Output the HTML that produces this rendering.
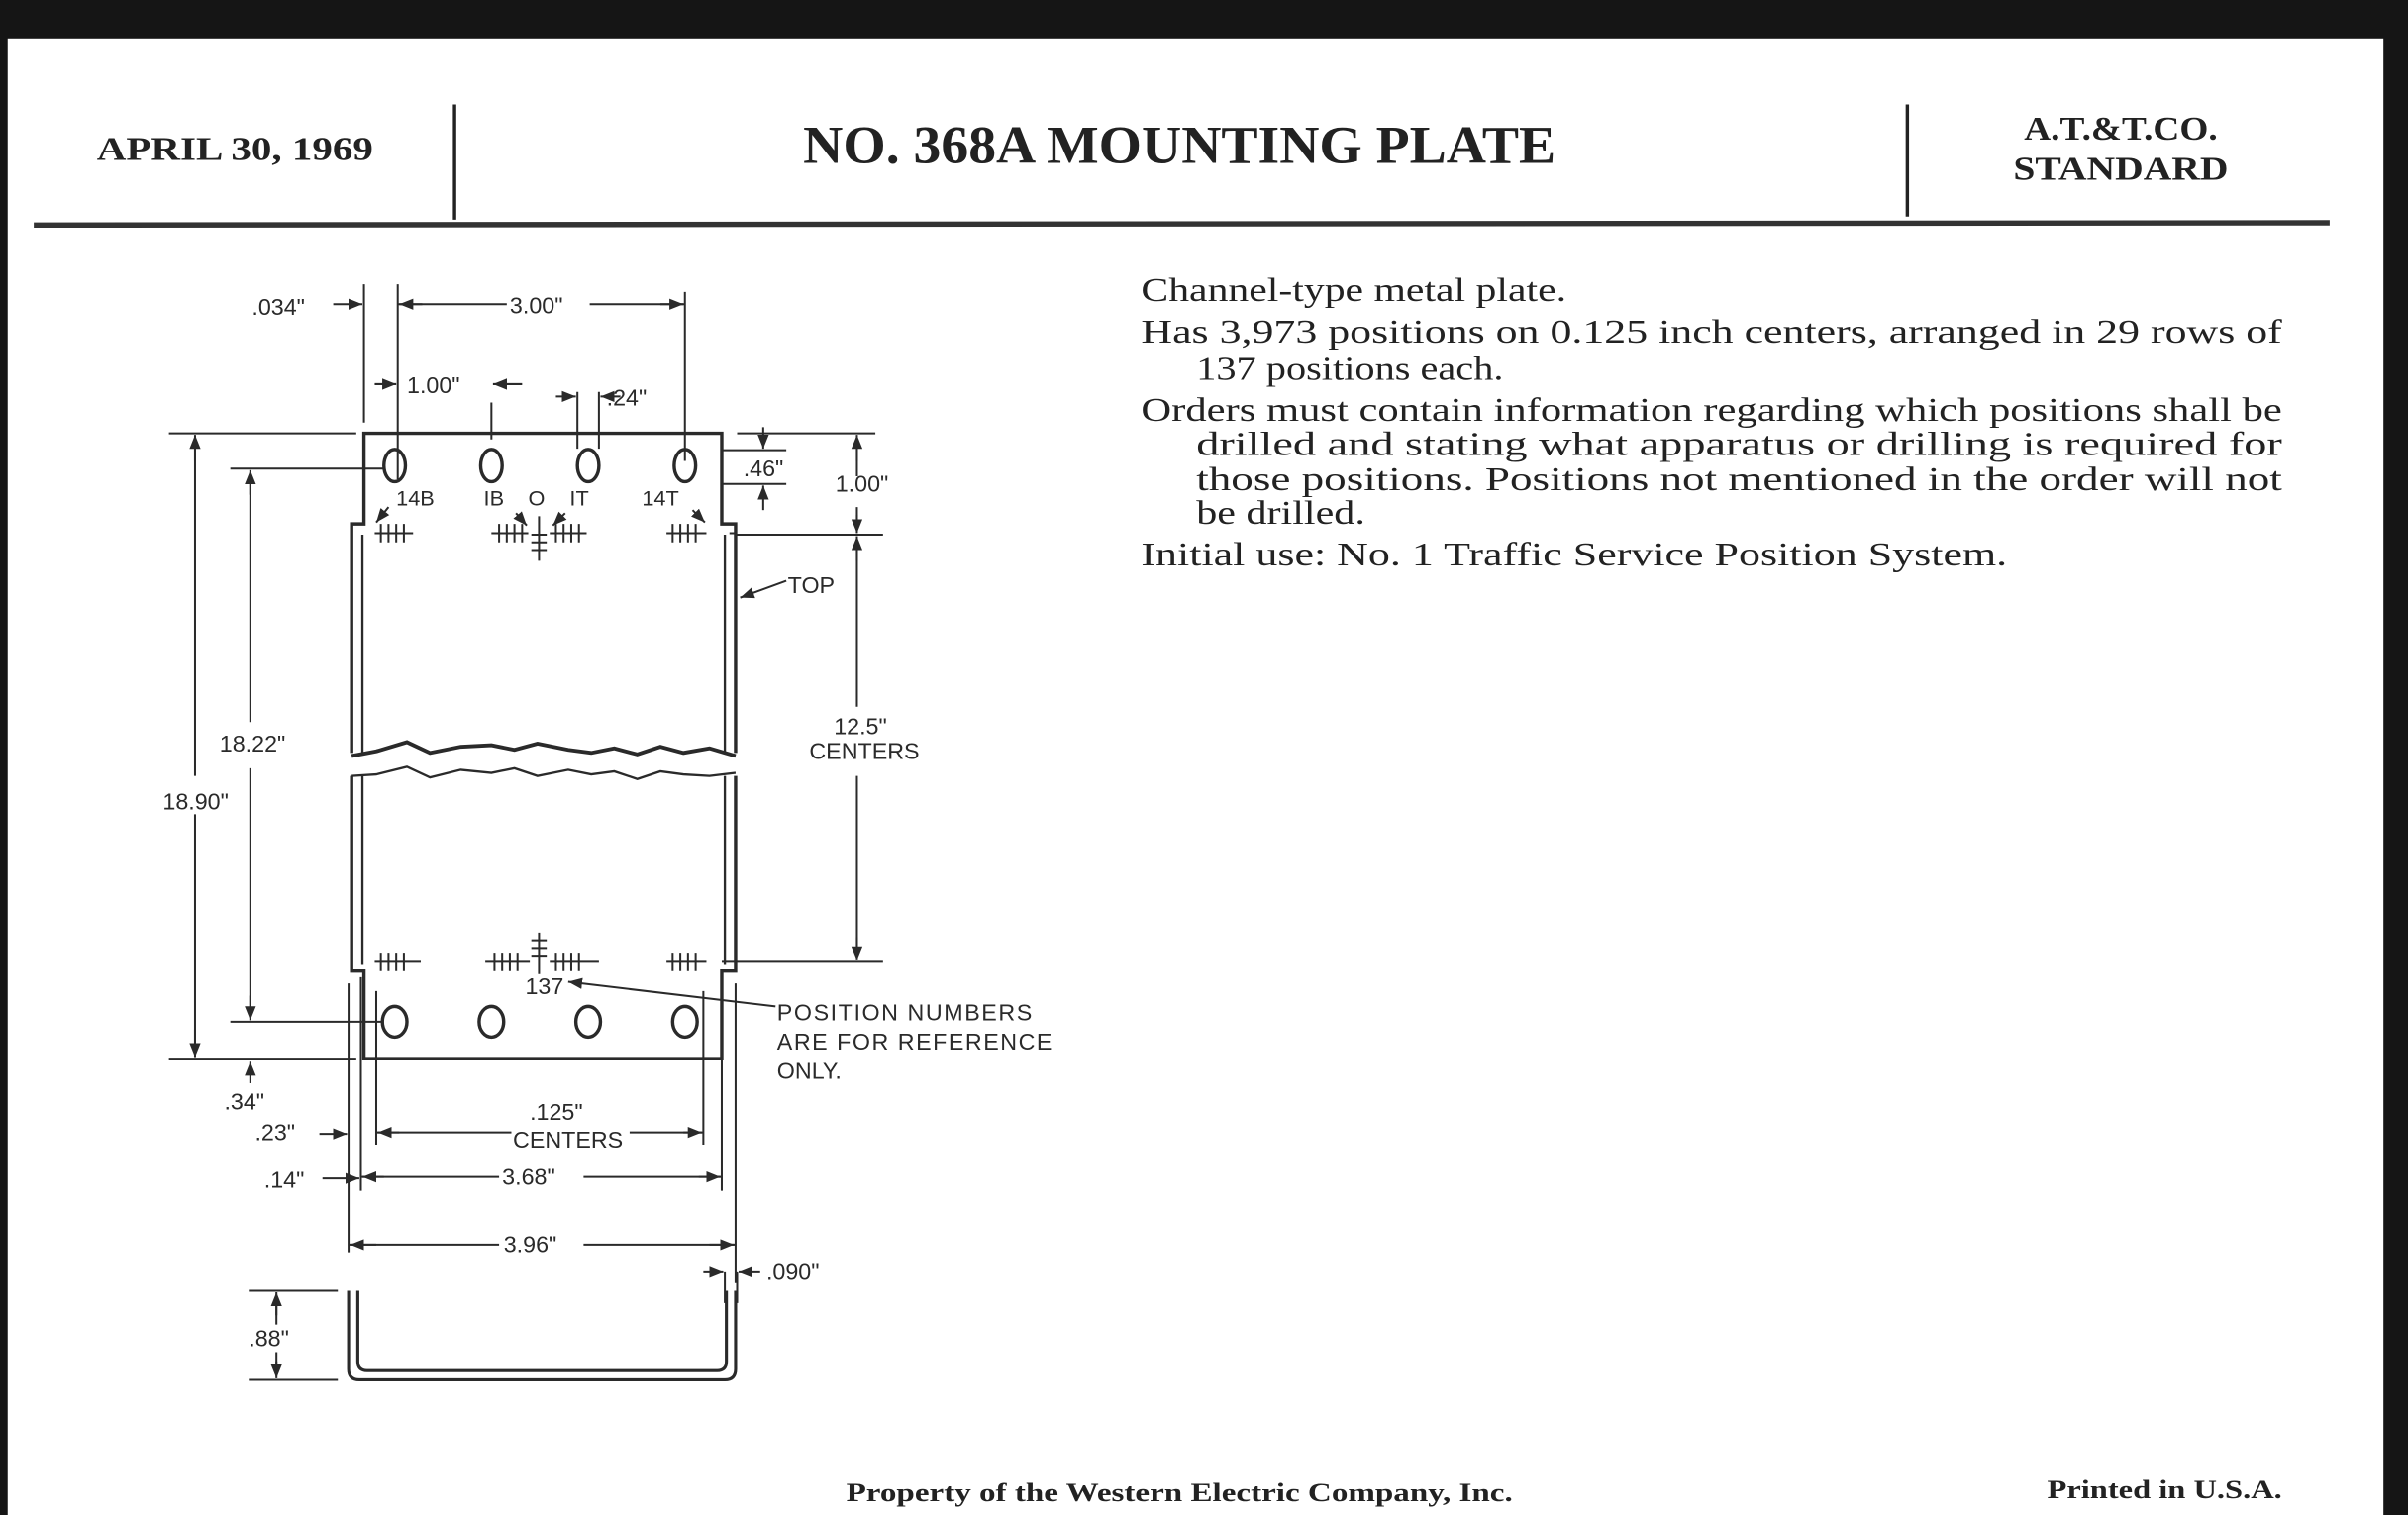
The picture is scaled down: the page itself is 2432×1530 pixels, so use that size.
<!DOCTYPE html>
<html><head><meta charset="utf-8"><style>
html,body{margin:0;padding:0;background:#1a1a1a;}
svg{display:block}
.s{font-family:"Liberation Serif",serif;fill:#222}
.d{font-family:"Liberation Sans",sans-serif;fill:#2a2a2a;font-size:15px}
</style></head><body>
<svg width="2432" height="1530" viewBox="0 0 1568 986" preserveAspectRatio="none" xmlns="http://www.w3.org/2000/svg">
<defs>
<marker id="a" viewBox="0 0 10 10" refX="10" refY="5" markerWidth="7" markerHeight="7" orient="auto-start-reverse"><path d="M0,1 L10,5 L0,9 z" fill="#2a2a2a"/></marker>
</defs>
<rect x="0" y="0" width="1568" height="986" fill="#151515"/>
<rect x="5" y="25" width="1547" height="961" fill="#fff"/>
<!-- header -->
<text class="s" x="63" y="104" font-size="22" font-weight="bold" textLength="180" lengthAdjust="spacingAndGlyphs">APRIL 30, 1969</text>
<line x1="296" y1="68" x2="296" y2="143" stroke="#222" stroke-width="2.2"/>
<line x1="1242" y1="68" x2="1242" y2="141" stroke="#222" stroke-width="2.2"/>
<text class="s" x="523" y="106" font-size="35" font-weight="bold" textLength="490" lengthAdjust="spacingAndGlyphs">NO. 368A MOUNTING PLATE</text>
<text class="s" x="1318" y="91" font-size="22" font-weight="bold" textLength="126" lengthAdjust="spacingAndGlyphs">A.T.&amp;T.CO.</text>
<text class="s" x="1311" y="117" font-size="22" font-weight="bold" textLength="140" lengthAdjust="spacingAndGlyphs">STANDARD</text>
<line x1="22" y1="146.5" x2="1517" y2="145" stroke="#333" stroke-width="3.5"/>
<!-- body text -->
<g class="s" font-size="21.5">
<text x="743" y="196" textLength="277" lengthAdjust="spacingAndGlyphs">Channel-type metal plate.</text>
<text x="743" y="223" textLength="743" lengthAdjust="spacingAndGlyphs">Has 3,973 positions on 0.125 inch centers, arranged in 29 rows of</text>
<text x="779" y="247" textLength="200" lengthAdjust="spacingAndGlyphs">137 positions each.</text>
<text x="743" y="274" textLength="743" lengthAdjust="spacingAndGlyphs">Orders must contain information regarding which positions shall be</text>
<text x="779" y="296" textLength="707" lengthAdjust="spacingAndGlyphs">drilled and stating what apparatus or drilling is required for</text>
<text x="779" y="319" textLength="707" lengthAdjust="spacingAndGlyphs">those positions.  Positions not mentioned in the order will not</text>
<text x="779" y="341" textLength="110" lengthAdjust="spacingAndGlyphs">be drilled.</text>
<text x="743" y="368" textLength="564" lengthAdjust="spacingAndGlyphs">Initial use: No. 1 Traffic Service Position System.</text>
</g>
<text class="s" x="551" y="977" font-size="17" font-weight="bold" textLength="434" lengthAdjust="spacingAndGlyphs">Property of the Western Electric Company, Inc.</text>
<text class="s" x="1333" y="975" font-size="17" font-weight="bold" textLength="153" lengthAdjust="spacingAndGlyphs">Printed in U.S.A.</text>

<!-- drawing -->
<g stroke="#2a2a2a" fill="none" stroke-width="2.2">
<path d="M229,490 L229,341 L237,341 L237,282 L470,282 L470,341 L479,341 L479,490"/>
<path d="M236,490 L236,348 M472,348 L472,490" stroke-width="1.5"/>
<path d="M229,492 L245,489 L265,483 L280,490 L300,486 L320,485 L335,488 L350,484 L370,488 L385,490 L400,487 L415,491 L430,486 L445,490 L462,487 L479,492" stroke-width="2.5"/>
<path d="M229,505 L245,504 L265,499 L280,506 L300,501 L320,503 L335,500 L350,505 L370,501 L385,504 L400,502 L415,507 L430,502 L445,504 L462,505 L479,503" stroke-width="1.5"/>
<path d="M229,505 L229,632 L237,632 L237,689 L470,689 L470,632 L479,632 L479,505"/>
<path d="M236,505 L236,628 M472,505 L472,628" stroke-width="1.5"/>
<ellipse cx="257" cy="303" rx="7" ry="10.5"/><ellipse cx="320" cy="303" rx="7" ry="10.5"/><ellipse cx="383" cy="303" rx="7" ry="10.5"/><ellipse cx="446" cy="303" rx="7" ry="10.5"/>
<ellipse cx="257" cy="665" rx="8" ry="10"/><ellipse cx="320" cy="665" rx="8" ry="10"/><ellipse cx="383" cy="665" rx="8" ry="10"/><ellipse cx="446" cy="665" rx="8" ry="10"/>
</g>
<g stroke="#2a2a2a" fill="none" stroke-width="1.3">
<path d="M244,347 H269 M248,341 V353 M253,341 V353 M258,341 V353 M263,341 V353"/>
<path d="M320,347 H344 M325,341 V353 M330,341 V353 M335,341 V353 M340,341 V353"/>
<path d="M358,347 H382 M362,341 V353 M367,341 V353 M372,341 V353 M377,341 V353"/>
<path d="M351,336 V365 M346,348 H356 M346,353 H356 M346,358 H356"/>
<path d="M434,347 H460 M438,341 V353 M443,341 V353 M448,341 V353 M453,341 V353 M475,347 H480"/>
<path d="M244,626 H274 M248,620 V632 M253,620 V632 M258,620 V632 M263,620 V632"/>
<path d="M316,626 H345 M322,620 V632 M327,620 V632 M332,620 V632 M337,620 V632"/>
<path d="M358,626 H390 M362,620 V632 M367,620 V632 M372,620 V632 M377,620 V632"/>
<path d="M351,607 V634 M346,612 H356 M346,617 H356 M346,622 H356"/>
<path d="M434,626 H460 M438,620 V632 M443,620 V632 M448,620 V632 M453,620 V632"/>
<path d="M110,282 H232 M110,689 H232 M150,305 H250 M150,665 H250"/>
<path d="M237,185 V275 M259,185 V312 M446,190 V300 M320,262 V286 M376,255 V292 M390,255 V292"/>
<path d="M470,293 H512 M470,315 H512 M480,282 H570 M480,348 H575 M470,626 H575"/>
<path d="M227,640 V815 M235,636 V775 M245,645 V745 M458,645 V745 M470,640 V775 M479,640 V835"/>
<path d="M162,840 H220 M162,898 H220"/>
<path d="M127,289 V505 M127,530 V682" />
<path d="M163,312 V470 M163,500 V658"/>
<path d="M558,289 V310 M558,330 V342" />
<path d="M558,355 V460 M558,505 V620"/>
<path d="M259,198 H330 M384,198 H446"/>
<path d="M245,737 H333 M410,737 H458"/>
<path d="M235,766 H325 M380,766 H470"/>
<path d="M227,810 H325 M380,810 H479"/>
<path d="M180,847 V862 M180,880 V892"/>
</g>
<g stroke="#2a2a2a" stroke-width="1.3" fill="none" marker-end="url(#a)">
<line x1="127" y1="300" x2="127" y2="283"/><line x1="127" y1="670" x2="127" y2="688"/>
<line x1="163" y1="322" x2="163" y2="306"/><line x1="163" y1="648" x2="163" y2="664"/>
<line x1="558" y1="300" x2="558" y2="283"/><line x1="558" y1="335" x2="558" y2="347"/>
<line x1="558" y1="365" x2="558" y2="349"/><line x1="558" y1="610" x2="558" y2="625"/>
<line x1="275" y1="198" x2="260" y2="198"/><line x1="430" y1="198" x2="445" y2="198"/>
<line x1="217" y1="198" x2="236" y2="198"/>
<line x1="244" y1="250" x2="258" y2="250"/><line x1="340" y1="250" x2="321" y2="250"/>
<line x1="362" y1="258" x2="375" y2="258"/><line x1="404" y1="258" x2="391" y2="258"/>
<line x1="497" y1="278" x2="497" y2="292"/><line x1="497" y1="332" x2="497" y2="316"/>
<line x1="512" y1="378" x2="482" y2="389"/>
<line x1="253" y1="330" x2="245" y2="340"/><line x1="336" y1="334" x2="343" y2="342"/>
<line x1="368" y1="334" x2="360" y2="342"/><line x1="451" y1="332" x2="459" y2="340"/>
<line x1="505" y1="655" x2="370" y2="639"/>
<line x1="163" y1="705" x2="163" y2="691"/>
<line x1="208" y1="738" x2="226" y2="738"/><line x1="210" y1="767" x2="234" y2="767"/>
<line x1="260" y1="737" x2="246" y2="737"/><line x1="445" y1="737" x2="457" y2="737"/>
<line x1="250" y1="766" x2="236" y2="766"/><line x1="455" y1="766" x2="469" y2="766"/>
<line x1="245" y1="810" x2="228" y2="810"/><line x1="462" y1="810" x2="478" y2="810"/>
<line x1="458" y1="828" x2="471" y2="828"/><line x1="495" y1="828" x2="481" y2="828"/>
<line x1="180" y1="856" x2="180" y2="841"/><line x1="180" y1="886" x2="180" y2="897"/>
</g>
<path d="M472,828 V848 M480,828 V848" stroke="#2a2a2a" stroke-width="1.3"/>
<path d="M227,840 V891 Q227,898 234,898 H472 Q479,898 479,891 V840 M233,840 V886 Q233,892 239,892 H467 Q473,892 473,886 V840" stroke="#2a2a2a" stroke-width="2" fill="none"/>
<g class="d">
<text x="164" y="205">.034"</text>
<text x="332" y="204">3.00"</text>
<text x="265" y="256">1.00"</text>
<text x="395" y="264">.24"</text>
<text x="484" y="310">.46"</text>
<text x="544" y="320">1.00"</text>
<text x="258" y="329" font-size="14">14B</text>
<text x="315" y="329" font-size="14">IB</text>
<text x="344" y="329" font-size="14">O</text>
<text x="371" y="329" font-size="14">IT</text>
<text x="418" y="329" font-size="14">14T</text>
<text x="513" y="386">TOP</text>
<text x="143" y="489">18.22"</text>
<text x="106" y="527">18.90"</text>
<text x="543" y="478">12.5"</text>
<text x="527" y="494">CENTERS</text>
<text x="342" y="647">137</text>
<text x="506" y="664" textLength="166">POSITION NUMBERS</text>
<text x="506" y="683" textLength="179">ARE FOR REFERENCE</text>
<text x="506" y="702">ONLY.</text>
<text x="146" y="722">.34"</text>
<text x="166" y="742">.23"</text>
<text x="172" y="773">.14"</text>
<text x="345" y="729">.125"</text>
<text x="334" y="747">CENTERS</text>
<text x="327" y="771">3.68"</text>
<text x="328" y="815">3.96"</text>
<text x="499" y="833">.090"</text>
<text x="162" y="876">.88"</text>
</g>
</svg>
</body></html>
